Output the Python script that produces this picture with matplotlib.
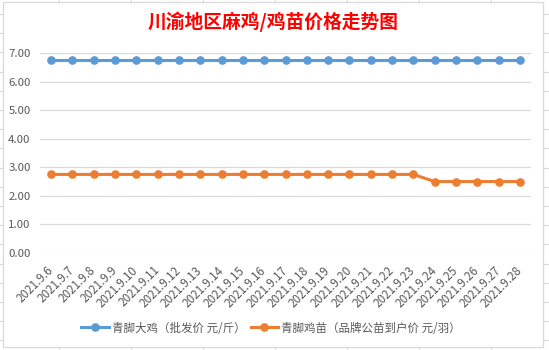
import matplotlib
matplotlib.use("Agg")
import matplotlib.pyplot as plt
from matplotlib.patches import Rectangle

plt.rcParams['font.family'] = ['Noto Sans CJK SC', 'DejaVu Sans']

# data
dates = ['2021.9.6', '2021.9.7', '2021.9.8', '2021.9.9', '2021.9.10', '2021.9.11',
         '2021.9.12', '2021.9.13', '2021.9.14', '2021.9.15', '2021.9.16', '2021.9.17',
         '2021.9.18', '2021.9.19', '2021.9.20', '2021.9.21', '2021.9.22', '2021.9.23',
         '2021.9.24', '2021.9.25', '2021.9.26', '2021.9.27', '2021.9.28']
big_chicken = [6.75] * 23
chick = [2.75] * 18 + [2.5] * 5
series_names = ['青脚大鸡（批发价 元/斤）', '青脚鸡苗（品牌公苗到户价 元/羽）']
y_ticks = [0, 1, 2, 3, 4, 5, 6, 7]

W, H = 549, 350
fig = plt.figure(figsize=(W / 100, H / 100), dpi=100)

# spreadsheet cells behind the chart
bg = fig.add_axes([0, 0, 1, 1])
bg.set_xlim(0, W)
bg.set_ylim(H, 0)
bg.axis('off')
for cx in [59, 131, 203, 275, 347, 419, 491]:
    bg.plot([cx, cx], [0, H], color='#DADADA', lw=0.8)
ry = 14
while ry < H:
    bg.plot([0, W], [ry, ry], color='#DADADA', lw=0.8)
    ry += 19.2
bg.add_patch(Rectangle((3, 2), 540, 345, facecolor='white', edgecolor='#D9D9D9', lw=0.9, zorder=3))

# chart
x0, x1 = 40.3, 530.7
yb, yt = 253, 53
ax = fig.add_axes([x0 / W, (H - yb) / H, (x1 - x0) / W, (yb - yt) / H])
ax.patch.set_alpha(0)
x = list(range(len(dates)))
ax.plot(x, big_chicken, color='#5B9BD5', lw=2.2, marker='o', ms=5.2, label=series_names[0])
ax.plot(x, chick, color='#ED7D31', lw=2.2, marker='o', ms=5.2, label=series_names[1])
ax.set_xlim(-0.5, len(dates) - 0.5)
ax.set_ylim(0, 7)
ax.set_yticks(y_ticks)
ax.set_yticklabels(['%.2f' % v for v in y_ticks], fontsize=8.2, color='#595959')
ax.set_xticks(x)
ax.set_xticklabels(dates, fontsize=8.4, color='#595959', rotation=45,
                   ha='right', va='center', rotation_mode='anchor')
ax.tick_params(axis='both', length=0)
ax.tick_params(axis='x', pad=11)
ax.tick_params(axis='y', pad=7)
ax.yaxis.grid(True, color='#D9D9D9', lw=0.9)
ax.set_axisbelow(True)
for s in ax.spines.values():
    s.set_visible(False)

fig.text(273 / W, (H - 22) / H, '川渝地区麻鸡/鸡苗价格走势图', ha='center', va='center',
         fontsize=13.5, fontweight='bold', color='#FF0000')

fig.legend(loc='center', bbox_to_anchor=(271 / W, (H - 328) / H), ncol=2, frameon=False,
           fontsize=8.3, handlelength=2.4, columnspacing=0.45, handletextpad=0.25,
           labelcolor='#595959')

fig.savefig('out.png', dpi=100, facecolor='white')
